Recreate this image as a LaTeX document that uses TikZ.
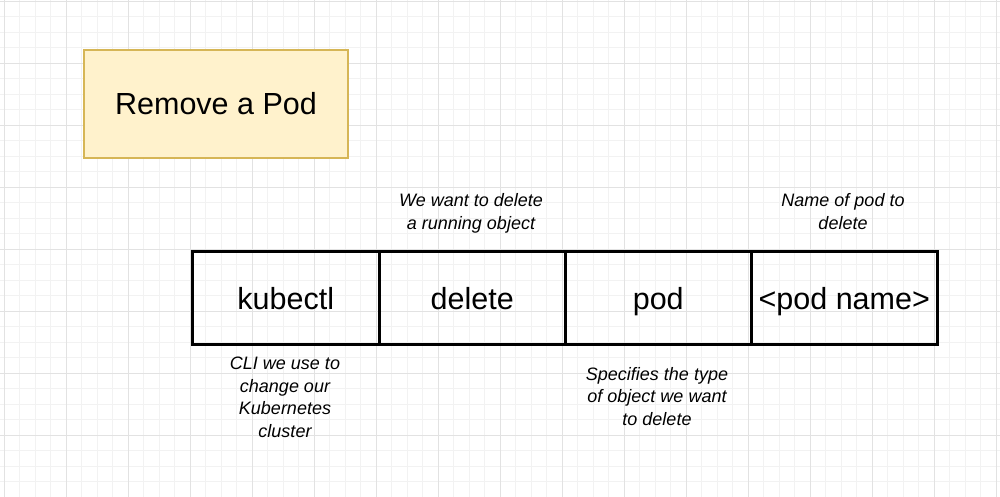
\documentclass[tikz,border=0pt]{standalone}
\usepackage{fontspec}
\setmainfont{Liberation Sans}
\definecolor{gridminor}{HTML}{F2F2F2}
\definecolor{gridmajor}{HTML}{E2E2E2}
\definecolor{titlefill}{HTML}{FFF2CC}
\definecolor{titledraw}{HTML}{D6B656}
\tikzset{
  cmdbox/.style={draw=black, line width=3pt, minimum width=186.5pt, minimum height=93pt,
    inner sep=0pt, text height=28pt, text depth=5.6pt,
    font=\fontsize{30.5}{36}\selectfont, anchor=north west},
  titlebox/.style={draw=titledraw, fill=titlefill, line width=2pt, minimum width=264pt,
    minimum height=108pt, inner sep=0pt, font=\fontsize{30.5}{36}\selectfont, anchor=north west},
  note/.style={align=center, inner sep=0pt, font=\itshape\fontsize{18}{22.5}\selectfont, anchor=base}
}
\begin{document}
\begin{tikzpicture}[x=1pt, y=-1pt]
\useasboundingbox (0,0) rectangle (1000,497);
\fill[white] (0,0) rectangle (1000,497);
% grid
\foreach \i in {0,...,64} {
  \pgfmathsetmacro{\gx}{4.3+15.5*\i}
  \draw[gridminor, line width=1pt] (\gx,0) -- (\gx,497);
}
\foreach \i in {0,...,32} {
  \pgfmathsetmacro{\gy}{1.3+15.5*\i}
  \draw[gridminor, line width=1pt] (0,\gy) -- (1000,\gy);
}
\foreach \i in {0,...,16} {
  \pgfmathsetmacro{\gx}{4.3+62*\i}
  \draw[gridmajor, line width=1pt] (\gx,0) -- (\gx,497);
}
\foreach \i in {0,...,8} {
  \pgfmathsetmacro{\gy}{1.3+62*\i}
  \draw[gridmajor, line width=1pt] (0,\gy) -- (1000,\gy);
}
% title
\node[titlebox] (title) at (83,49) {Remove a Pod};
% command boxes
\node[cmdbox] (kubectl) at (191,250) {kubectl};
\node[cmdbox] (delete) at (377.5,250) {delete};
\node[cmdbox] (pod) at (563.5,250) {pod};
\node[cmdbox] (podname) at (749.5,250) {<pod name>};
% notes (anchor=base is the baseline of the last line)
\node[note] (ndelete) at (471,229.3) {We want to delete\\a running object};
\node[note] (npodname) at (843,229.3) {Name of pod to\\delete};
\node[note] (nkubectl) at (285,437) {CLI we use to\\change our\\Kubernetes\\cluster};
\node[note] (npod) at (657,425) {Specifies the type\\of object we want\\to delete};
\end{tikzpicture}
\end{document}
